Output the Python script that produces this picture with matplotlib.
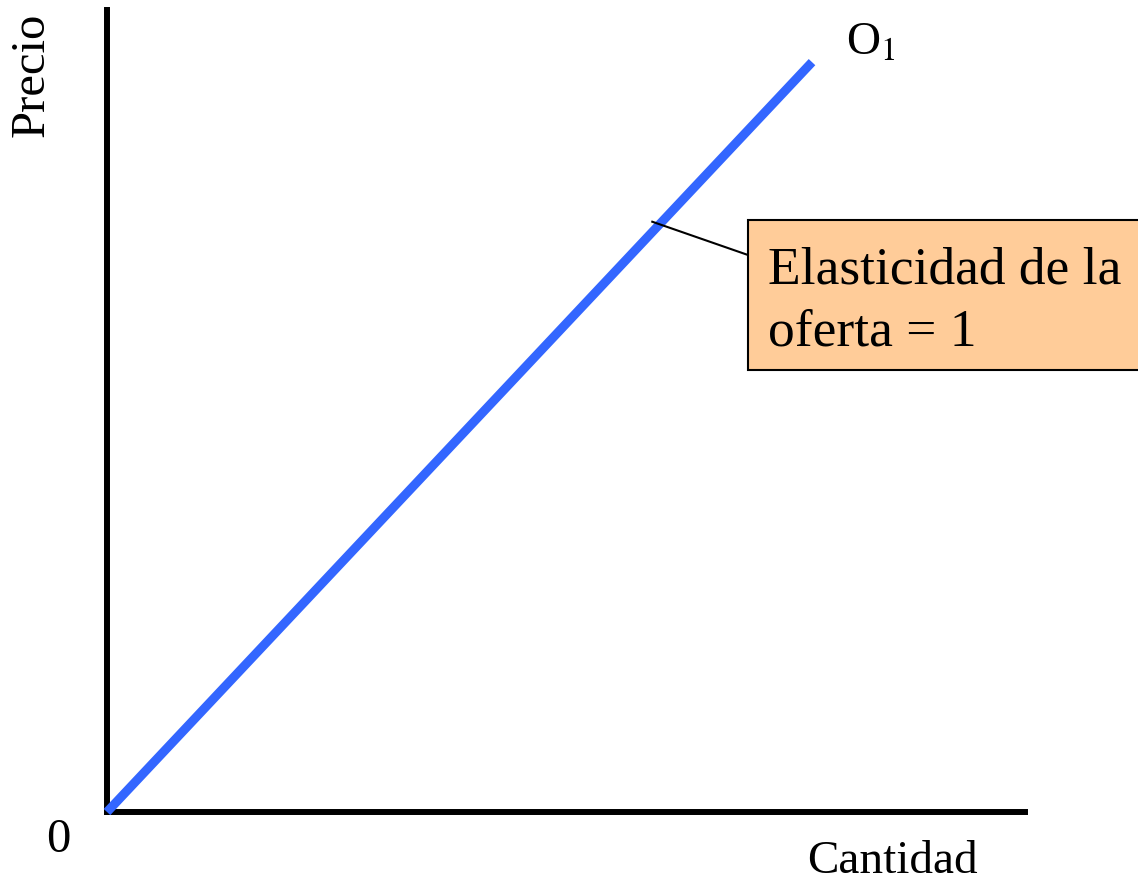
"""Curva de oferta con elasticidad unitaria (recta desde el origen)."""
import matplotlib
matplotlib.use("Agg")
import matplotlib.pyplot as plt
from matplotlib.patches import Rectangle
from matplotlib.lines import Line2D

plt.rcParams["font.family"] = ["Liberation Serif", "DejaVu Serif"]
plt.rcParams["mathtext.fontset"] = "stix"

# Supply curve O1 (through the origin)
cantidad = [0.0, 76.8]
precio = [0.0, 93.5]

# Point on the curve where the callout points
callout_q = 59.4
callout_p = 73.6

W, H = 1138, 884


def fx(x):
    return x / W


def fy(y):
    return 1 - y / H


fig = plt.figure(figsize=(W / 100, H / 100), dpi=100)
ax = fig.add_axes([fx(107), fy(812), (1025 - 107) / W, (812 - 10) / H])
ax.set_xlim(0, 100)
ax.set_ylim(0, 100)

for side in ("top", "right"):
    ax.spines[side].set_visible(False)
for side in ("left", "bottom"):
    ax.spines[side].set_linewidth(4.3)
    ax.spines[side].set_color("black")
ax.set_xticks([])
ax.set_yticks([])

ax.plot(cantidad, precio, color="#3366ff", linewidth=6.5,
        solid_capstyle="butt", clip_on=False, zorder=3)

# labels
fig.text(fx(32), fy(75), "Precio", rotation=90, ha="center", va="center", fontsize=35)
fig.text(fx(892), fy(873), "Cantidad", ha="center", va="baseline", fontsize=34)
fig.text(fx(58), fy(852), "0", ha="center", va="baseline", fontsize=35)
fig.text(fx(846), fy(55), "O$_{1}$", ha="left", va="baseline", fontsize=34)

# callout box (runs off the right edge as in the original slide)
box = Rectangle((fx(748), fy(370)), (1160 - 748) / W, (370 - 220) / H,
                transform=fig.transFigure, facecolor="#ffcc99",
                edgecolor="black", linewidth=1.5, zorder=4)
fig.patches.append(box)
fig.text(fx(768), fy(283), "Elasticidad de la", ha="left", va="baseline",
         fontsize=38.5, zorder=5)
fig.text(fx(768), fy(345), "oferta = 1", ha="left", va="baseline",
         fontsize=38.5, zorder=5)

# leader line from curve to the box
px, py = ax.transData.transform((callout_q, callout_p))
leader = Line2D([px / W, fx(748)], [py / H, fy(255)], transform=fig.transFigure,
                color="black", linewidth=1.5, zorder=4)
fig.lines.append(leader)

fig.savefig("out.png", dpi=100)
